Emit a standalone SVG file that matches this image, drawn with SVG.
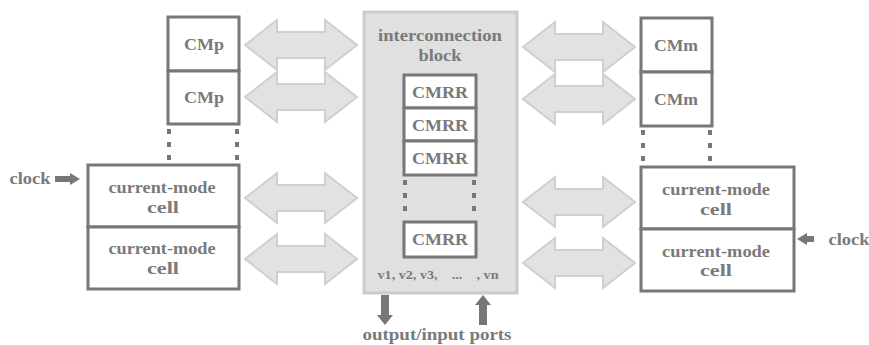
<svg xmlns="http://www.w3.org/2000/svg" width="869" height="345" viewBox="0 0 869 345">
<defs>
<style>
.t{font-family:"Liberation Serif","Times New Roman",serif;font-weight:bold;fill:#7a7a7a;text-anchor:middle}
.box{fill:#fff;stroke:#777;stroke-width:3}
.dots{stroke:#777;stroke-width:4;stroke-dasharray:5,8;fill:none}
.darr{fill:#e2e2e2;stroke:#cfcfcf;stroke-width:2;stroke-linejoin:miter}
.sarr{fill:#777}
</style>
<path id="dbl" d="M0,25 L32,0 L32,12 L80,12 L80,0 L112,25 L80,50 L80,38 L32,38 L32,50 Z"/>
</defs>
<rect width="869" height="345" fill="#fff"/>

<g id="interconnection">
<rect x="364" y="12" width="153" height="281" fill="#e0e0e0" stroke="#cbcbcb" stroke-width="3"/>
<text class="t" x="440" y="41" font-size="17" textLength="124" lengthAdjust="spacingAndGlyphs">interconnection</text>
<text class="t" x="440" y="61" font-size="17" textLength="43" lengthAdjust="spacingAndGlyphs">block</text>
<text class="t" x="438" y="279" font-size="13.5" xml:space="preserve" textLength="121" lengthAdjust="spacingAndGlyphs">v1, v2, v3,    ...    , vn</text>
</g>
<g id="cmrr1"><rect class="box" x="404" y="75" width="72" height="33"/><text class="t" x="440" y="98" font-size="17" textLength="56" lengthAdjust="spacingAndGlyphs">CMRR</text></g>
<g id="cmrr2"><rect class="box" x="404" y="108" width="72" height="33"/><text class="t" x="440" y="131" font-size="17" textLength="56" lengthAdjust="spacingAndGlyphs">CMRR</text></g>
<g id="cmrr3"><rect class="box" x="404" y="141" width="72" height="34"/><text class="t" x="440" y="164" font-size="17" textLength="56" lengthAdjust="spacingAndGlyphs">CMRR</text></g>
<g id="cmrrn"><rect class="box" x="404" y="222" width="72" height="35"/><text class="t" x="440" y="245" font-size="17" textLength="56" lengthAdjust="spacingAndGlyphs">CMRR</text></g>

<g id="cmp1"><rect class="box" x="168" y="17" width="71" height="54"/><text class="t" x="204" y="50" font-size="16" textLength="40" lengthAdjust="spacingAndGlyphs">CMp</text></g>
<g id="cmp2"><rect class="box" x="168" y="71" width="71" height="53"/><text class="t" x="204" y="103" font-size="16" textLength="40" lengthAdjust="spacingAndGlyphs">CMp</text></g>
<g id="cml1"><rect class="box" x="88" y="165" width="151" height="62"/><text class="t" x="162" y="193" font-size="17" textLength="107" lengthAdjust="spacingAndGlyphs">current-mode</text><text class="t" x="163" y="213" font-size="17" textLength="32" lengthAdjust="spacingAndGlyphs">cell</text></g>
<g id="cml2"><rect class="box" x="88" y="227" width="151" height="62"/><text class="t" x="162" y="254" font-size="17" textLength="107" lengthAdjust="spacingAndGlyphs">current-mode</text><text class="t" x="163" y="274" font-size="17" textLength="32" lengthAdjust="spacingAndGlyphs">cell</text></g>

<g id="cmm1"><rect class="box" x="641" y="18" width="71" height="54"/><text class="t" x="676" y="51" font-size="16" textLength="44" lengthAdjust="spacingAndGlyphs">CMm</text></g>
<g id="cmm2"><rect class="box" x="641" y="72" width="71" height="54"/><text class="t" x="676" y="105" font-size="16" textLength="44" lengthAdjust="spacingAndGlyphs">CMm</text></g>
<g id="cmr1"><rect class="box" x="641" y="167" width="153" height="62"/><text class="t" x="716" y="195" font-size="17" textLength="108" lengthAdjust="spacingAndGlyphs">current-mode</text><text class="t" x="716" y="215" font-size="17" textLength="32" lengthAdjust="spacingAndGlyphs">cell</text></g>
<g id="cmr2"><rect class="box" x="641" y="229" width="153" height="62"/><text class="t" x="716" y="257" font-size="17" textLength="108" lengthAdjust="spacingAndGlyphs">current-mode</text><text class="t" x="716" y="276" font-size="17" textLength="32" lengthAdjust="spacingAndGlyphs">cell</text></g>

<g id="labels">
<text class="t" x="30" y="184" font-size="17" textLength="41" lengthAdjust="spacingAndGlyphs">clock</text>
<text class="t" x="849" y="245" font-size="17" textLength="41" lengthAdjust="spacingAndGlyphs">clock</text>
<text class="t" x="437" y="340" font-size="17" textLength="149" lengthAdjust="spacingAndGlyphs">output/input ports</text>
</g>

<g id="connectors">
<path class="dots" d="M169,129 V162 M237,129 V162"/>
<path class="dots" d="M643,130 V164 M710,130 V164"/>
<path class="dots" d="M405,180 V215 M474,180 V215"/>
<use href="#dbl" class="darr" x="245" y="20"/>
<use href="#dbl" class="darr" x="245" y="72"/>
<use href="#dbl" class="darr" x="245" y="173"/>
<use href="#dbl" class="darr" x="245" y="234"/>
<use href="#dbl" class="darr" x="523" y="22"/>
<use href="#dbl" class="darr" x="523" y="74"/>
<use href="#dbl" class="darr" x="523" y="177"/>
<use href="#dbl" class="darr" x="523" y="238"/>
<path class="sarr" d="M55,176 H70 V173 L80,179 L70,185 V182 H55 Z"/>
<path class="sarr" d="M814,236 H807 V233 L797,239 L807,245 V242 H814 Z"/>
<path class="sarr" d="M381,295 H389 V315 H393 L385,325 L377,315 H381 Z"/>
<path class="sarr" d="M479,325 H487 V305 H491 L483,295 L475,305 H479 Z"/>
</g>
</svg>
